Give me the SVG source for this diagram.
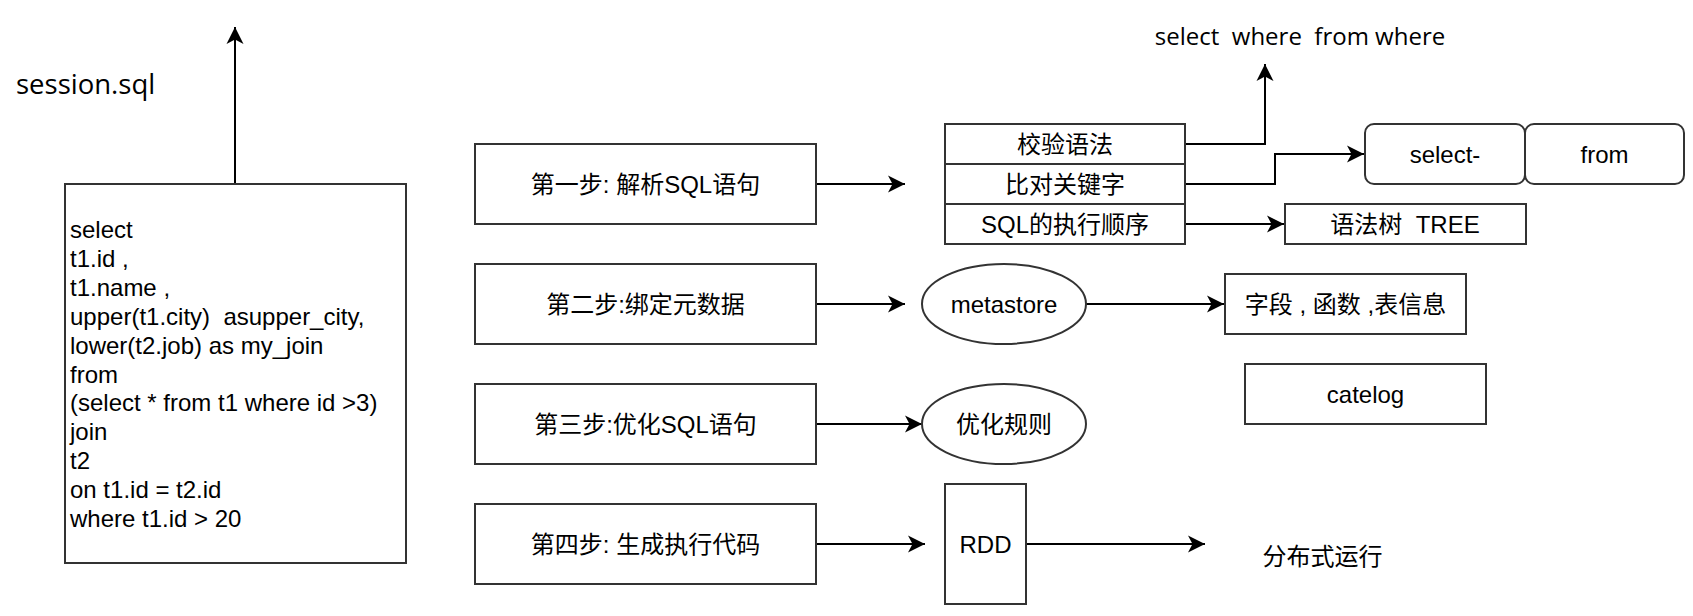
<svg xmlns="http://www.w3.org/2000/svg" width="1693" height="616" viewBox="0 0 1693 616">
<defs>
<marker id="arr" markerUnits="userSpaceOnUse" markerWidth="20" markerHeight="20" viewBox="-18 -10 20 20" refX="0" refY="0" orient="auto">
<path d="M0,0 L-17,-8.5 L-12.5,0 L-17,8.5 Z" fill="#000"/>
</marker>
</defs>
<style>
.box{fill:#fff;stroke:#333;stroke-width:2}
.t{font-family:"Liberation Sans","Noto Sans CJK SC",sans-serif;font-size:24px;fill:#000}
.m{text-anchor:middle}
.c{fill:none;stroke:#000;stroke-width:2;marker-end:url(#arr)}
</style>
<rect width="1693" height="616" fill="#fff"/>

<g id="connectors">
<path class="c" d="M235,184 L235,27"/>
<path class="c" d="M816,184 L905,184"/>
<path class="c" d="M816,304 L905,304"/>
<path class="c" d="M816,424 L922,424"/>
<path class="c" d="M816,544 L925,544"/>
<path class="c" d="M1185,144 L1265,144 L1265,64"/>
<path class="c" d="M1185,184 L1275,184 L1275,154 L1364,154"/>
<path class="c" d="M1185,224 L1284,224"/>
<path class="c" d="M1086,304 L1224,304"/>
<path class="c" d="M1026,544 L1205,544"/>
</g>

<g id="session-label">
<text x="16" y="94" style="font-family:'Open Sans',sans-serif;font-size:27.5px;fill:#000">session.sql</text>
</g>

<g id="sql-box">
<rect class="box" x="65" y="184" width="341" height="379"/>
<text class="t" x="70" y="238">select</text>
<text class="t" x="70" y="266.9">t1.id ,</text>
<text class="t" x="70" y="295.8">t1.name ,</text>
<text class="t" x="70" y="324.7" xml:space="preserve">upper(t1.city)  asupper_city,</text>
<text class="t" x="70" y="353.6">lower(t2.job) as my_join</text>
<text class="t" x="70" y="382.5">from</text>
<text class="t" x="70" y="411.4">(select * from t1 where id &gt;3)</text>
<text class="t" x="70" y="440.3">join</text>
<text class="t" x="70" y="469.2">t2</text>
<text class="t" x="70" y="498.1">on t1.id = t2.id</text>
<text class="t" x="70" y="527">where t1.id &gt; 20</text>
</g>

<g id="step1">
<rect class="box" x="475" y="144" width="341" height="80"/>
<text class="t m" x="645.5" y="192.5">第一步: 解析SQL语句</text>
</g>
<g id="step2">
<rect class="box" x="475" y="264" width="341" height="80"/>
<text class="t m" x="645.5" y="312.5">第二步:绑定元数据</text>
</g>
<g id="step3">
<rect class="box" x="475" y="384" width="341" height="80"/>
<text class="t m" x="645.5" y="432.5">第三步:优化SQL语句</text>
</g>
<g id="step4">
<rect class="box" x="475" y="504" width="341" height="80"/>
<text class="t m" x="645.5" y="552.5">第四步: 生成执行代码</text>
</g>

<g id="row-jiaoyan">
<rect class="box" x="945" y="124" width="240" height="40"/>
<text class="t m" x="1065" y="152.5">校验语法</text>
</g>
<g id="row-bidui">
<rect class="box" x="945" y="164" width="240" height="40"/>
<text class="t m" x="1065" y="192.5">比对关键字</text>
</g>
<g id="row-order">
<rect class="box" x="945" y="204" width="240" height="40"/>
<text class="t m" x="1065" y="232.5">SQL的执行顺序</text>
</g>

<g id="keywords-label">
<text x="1300" y="45" xml:space="preserve" style="font-family:'Comic Sans MS','Open Sans',sans-serif;font-size:24px;fill:#000;text-anchor:middle">select  where  from where</text>
</g>

<g id="select-node">
<rect class="box" x="1365" y="124" width="160" height="60" rx="9"/>
<text class="t m" x="1445" y="162.5">select-</text>
</g>
<g id="from-node">
<rect class="box" x="1525" y="124" width="159" height="60" rx="9"/>
<text class="t m" x="1604.5" y="162.5">from</text>
</g>

<g id="tree-node">
<rect class="box" x="1285" y="204" width="241" height="40"/>
<text class="t m" x="1405" y="232.5" xml:space="preserve">语法树  TREE</text>
</g>

<g id="metastore">
<ellipse class="box" cx="1004" cy="304" rx="82" ry="40"/>
<text class="t m" x="1004" y="312.5">metastore</text>
</g>
<g id="fields-node">
<rect class="box" x="1225" y="274" width="241" height="60"/>
<text class="t m" x="1345.5" y="312.5" xml:space="preserve">字段 , 函数 ,表信息</text>
</g>
<g id="catelog-node">
<rect class="box" x="1245" y="364" width="241" height="60"/>
<text class="t m" x="1365.5" y="402.5">catelog</text>
</g>
<g id="rules-node">
<ellipse class="box" cx="1004" cy="424" rx="82" ry="40"/>
<text class="t m" x="1004" y="432.5">优化规则</text>
</g>
<g id="rdd-node">
<rect class="box" x="945" y="484" width="81" height="120"/>
<text class="t m" x="985.5" y="552.5">RDD</text>
</g>
<g id="run-label">
<text class="t m" x="1322.5" y="565">分布式运行</text>
</g>
</svg>
